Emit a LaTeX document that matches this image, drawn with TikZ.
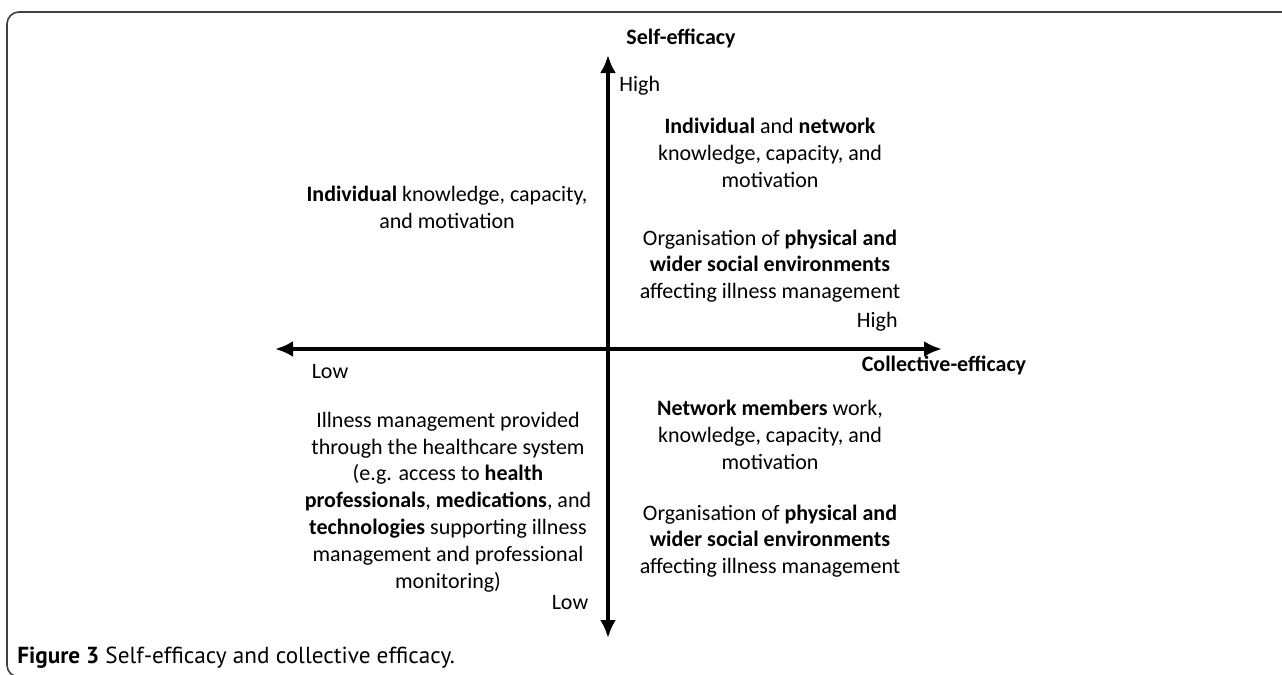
\documentclass[tikz,border=0pt]{standalone}
\usepackage{fontspec}
\setmainfont{Carlito}
\newfontfamily\figcapfont{PT Sans}
\usetikzlibrary{arrows.meta}
\tikzset{
  txt/.style={align=center,inner sep=0pt,font=\fontsize{11}{13.4}\selectfont},
  axis/.style={line width=2pt,{Latex[length=9pt,width=8pt]}-{Latex[length=9pt,width=8pt]}},
  frame/.style={draw=black!75,line width=0.8pt,rounded corners=6pt}
}
\begin{document}
\begin{tikzpicture}[x=0.5pt,y=-0.5pt]
      \useasboundingbox (0,0) rectangle (1282,675);
      \draw[frame] (7,12) rectangle (1300,677);
      % axes
      \coordinate (top) at (608,55);
      \coordinate (bottom) at (608,638);
      \coordinate (left) at (275,349);
      \coordinate (right) at (942,349);
      \draw[axis] (bottom) -- (top);
      \draw[axis] (left) -- (right);
      \node[txt] (selfeff) at (681,38) {\textbf{Self-efficacy}};
      \node[txt] (colleff) at (944,365) {\textbf{Collective-efficacy}};
      \node[txt,anchor=west] (highy) at (619,86) {High};
      \node[txt,anchor=east] (highx) at (898,322) {High};
      \node[txt] (lowx) at (330,372) {Low};
      \node[txt] (lowy) at (570,603) {Low};
      % quadrants
      \node[txt] (indiv) at (447,207) {\textbf{Individual} knowledge, capacity,\\and motivation};
      \node[txt] (indnet) at (770,153) {\textbf{Individual} and \textbf{network}\\knowledge, capacity, and\\motivation};
      \node[txt] (orgtop) at (770,266) {Organisation of \textbf{physical and}\\\textbf{wider social environments}\\affecting illness management};
      \node[txt] (health) at (448,502) {Illness management provided\\through the healthcare system\\(e.g. access to \textbf{health}\\\textbf{professionals}, \textbf{medications}, and\\\textbf{technologies} supporting illness\\management and professional\\monitoring)};
      \node[txt] (netmem) at (770,435) {\textbf{Network members} work,\\knowledge, capacity, and\\motivation};
      \node[txt] (orgbot) at (770,541) {Organisation of \textbf{physical and}\\\textbf{wider social environments}\\affecting illness management};
      \node[anchor=west,inner sep=0pt,font=\figcapfont\fontsize{11.6}{14}\selectfont] (figcap) at (17,658) {\textbf{Figure 3} Self-efficacy and collective efficacy.};
    \end{tikzpicture}
\end{document}
